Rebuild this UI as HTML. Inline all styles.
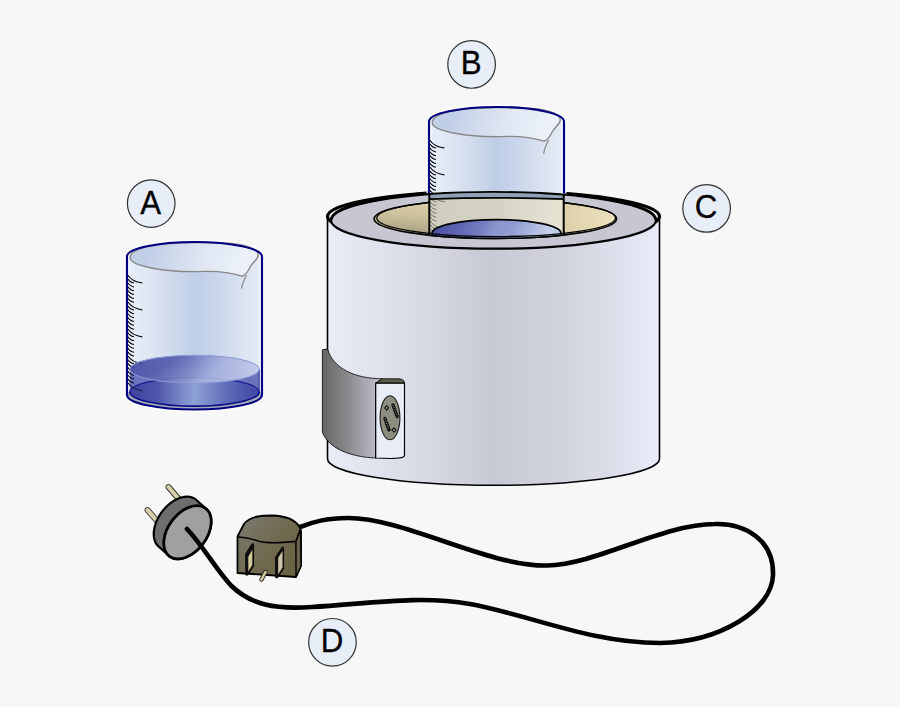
<!DOCTYPE html><html><head><meta charset="utf-8"><style>html,body{margin:0;padding:0;background:#f7f7f7;}svg{display:block}text{font-family:"Liberation Sans",sans-serif}</style></head><body>
<svg width="900" height="707" viewBox="0 0 900 707">
<defs>
<linearGradient id="gBody" x1="127" y1="0" x2="262" y2="0" gradientUnits="userSpaceOnUse">
 <stop offset="0" stop-color="#e9eff9"/><stop offset="0.18" stop-color="#dde5f2"/><stop offset="0.5" stop-color="#bfcee6"/><stop offset="0.66" stop-color="#c9d5ea"/><stop offset="0.88" stop-color="#dde5f1"/><stop offset="1" stop-color="#e6ecf6"/>
</linearGradient>
<linearGradient id="gRim" x1="150" y1="244" x2="240" y2="272" gradientUnits="userSpaceOnUse">
 <stop offset="0" stop-color="#c0cee6"/><stop offset="0.6" stop-color="#e0e7f3"/><stop offset="1" stop-color="#ebf0f9"/>
</linearGradient>
<linearGradient id="gLiqBot" x1="130" y1="0" x2="259" y2="0" gradientUnits="userSpaceOnUse">
 <stop offset="0" stop-color="#3a429e"/><stop offset="0.22" stop-color="#5058ac"/><stop offset="0.5" stop-color="#8ea2d4"/><stop offset="0.78" stop-color="#5a66b6"/><stop offset="1" stop-color="#3e46a2"/>
</linearGradient>
<linearGradient id="gLiqTop" x1="178" y1="356" x2="198" y2="384" gradientUnits="userSpaceOnUse">
 <stop offset="0" stop-color="#4c52a6"/><stop offset="0.4" stop-color="#6870b8"/><stop offset="1" stop-color="#96a2d6"/>
</linearGradient>
<linearGradient id="gLiqTopH" x1="129" y1="0" x2="259" y2="0" gradientUnits="userSpaceOnUse">
 <stop offset="0" stop-color="#c4ceec" stop-opacity="0"/><stop offset="0.45" stop-color="#c4ceec" stop-opacity="0.15"/><stop offset="1" stop-color="#c8d2ee" stop-opacity="0.9"/>
</linearGradient>
<linearGradient id="gLiqTopB" x1="442" y1="215" x2="534" y2="259" gradientUnits="userSpaceOnUse">
 <stop offset="0" stop-color="#4b50a4"/><stop offset="0.4" stop-color="#747cc0"/><stop offset="0.52" stop-color="#8a94cc"/><stop offset="0.68" stop-color="#909cd2"/><stop offset="1" stop-color="#c2cee9"/>
</linearGradient>
<linearGradient id="gHeat" x1="327" y1="0" x2="660" y2="0" gradientUnits="userSpaceOnUse">
 <stop offset="0" stop-color="#e8ecf7"/><stop offset="0.25" stop-color="#dadde8"/><stop offset="0.5" stop-color="#c7cad5"/><stop offset="0.75" stop-color="#d3d6e1"/><stop offset="1" stop-color="#e8ecf8"/>
</linearGradient>
<linearGradient id="gHole" x1="0" y1="200" x2="0" y2="237" gradientUnits="userSpaceOnUse">
 <stop offset="0" stop-color="#ddd0a9"/><stop offset="0.45" stop-color="#c9bd99"/><stop offset="1" stop-color="#99937a"/>
</linearGradient>
<linearGradient id="gHole2" x1="380" y1="0" x2="617" y2="0" gradientUnits="userSpaceOnUse">
 <stop offset="0" stop-color="#e6dab6" stop-opacity="0"/><stop offset="0.5" stop-color="#dccfaa" stop-opacity="0.35"/><stop offset="0.78" stop-color="#ddd0aa" stop-opacity="1"/><stop offset="1" stop-color="#ede1bf" stop-opacity="1"/>
</linearGradient>
<linearGradient id="gInB" x1="430" y1="0" x2="564" y2="0" gradientUnits="userSpaceOnUse">
 <stop offset="0" stop-color="#d0cebe"/><stop offset="0.5" stop-color="#d3d3c5"/><stop offset="1" stop-color="#e8e4d4"/>
</linearGradient>
<linearGradient id="gBand" x1="322" y1="0" x2="376" y2="0" gradientUnits="userSpaceOnUse">
 <stop offset="0" stop-color="#656565"/><stop offset="0.5" stop-color="#8c8c90"/><stop offset="1" stop-color="#b9bac6"/>
</linearGradient>
<linearGradient id="gUS" x1="240" y1="520" x2="298" y2="565" gradientUnits="userSpaceOnUse">
 <stop offset="0" stop-color="#7a7a70"/><stop offset="0.5" stop-color="#716b52"/><stop offset="1" stop-color="#6a6242"/>
</linearGradient>
<clipPath id="clipAbove"><path d="M0,0 H900 V216.5 H659.5 A166,25.5 0 0 0 327.5,216.5 H0 Z"/></clipPath>
<clipPath id="clipBx"><rect x="429.3" y="0" width="134.4" height="707"/></clipPath>
<clipPath id="clipLiq"><path d="M129.8,369.2 V391.9 A64.7,14.2 0 0 0 259.2,391.9 V369.2 A64.7,13.9 0 0 0 129.8,369.2 Z"/></clipPath>
<clipPath id="clipHole2"><path d="M400,199.2 H429 Q496.5,196.6 564,199.2 H600 V218.8 H616.6 A121.25,19.6 0 0 1 374.1,218.8 Z"/></clipPath>
</defs>
<g transform="translate(0,0)">
<path d="M127.0,256.5 V395.0 A67.5,14.5 0 0 0 262.0,395.0 V256.5 A67.5,14.5 0 0 0 127.0,256.5 Z" fill="url(#gBody)" stroke="#fff" stroke-width="5" stroke-opacity="0.9"/>
<path d="M128.00,275.20 C130.00,278.80 135.00,281.80 142.50,283.10 M128.00,279.04 C129.00,281.04 131.00,282.44 134.00,283.04 M128.00,282.89 C129.00,284.89 131.00,286.29 134.00,286.89 M128.00,286.73 C129.00,288.73 131.00,290.13 134.00,290.73 M128.00,290.57 C129.00,292.57 131.00,293.97 134.00,294.57 M128.00,294.41 C129.00,296.41 131.00,297.81 134.00,298.41 M128.00,298.26 C129.00,300.26 131.00,301.66 134.00,302.26 M128.00,302.10 C130.00,305.70 135.00,308.70 142.50,310.00 M128.00,305.94 C129.00,307.94 131.00,309.34 134.00,309.94 M128.00,309.79 C129.00,311.79 131.00,313.19 134.00,313.79 M128.00,313.63 C129.00,315.63 131.00,317.03 134.00,317.63 M128.00,317.47 C129.00,319.47 131.00,320.87 134.00,321.47 M128.00,321.31 C129.00,323.31 131.00,324.71 134.00,325.31 M128.00,325.16 C129.00,327.16 131.00,328.56 134.00,329.16 M128.00,329.00 C130.00,332.60 135.00,335.60 142.50,336.90 M128.00,332.84 C129.00,334.84 131.00,336.24 134.00,336.84 M128.00,336.69 C129.00,338.69 131.00,340.09 134.00,340.69 M128.00,340.53 C129.00,342.53 131.00,343.93 134.00,344.53 M128.00,344.37 C129.00,346.37 131.00,347.77 134.00,348.37 M128.00,348.21 C129.00,350.21 131.00,351.61 134.00,352.21 M128.00,352.06 C129.00,354.06 131.00,355.46 134.00,356.06 M128.00,355.90 C130.00,359.50 135.00,362.50 142.50,363.80 M128.00,359.74 C129.00,361.74 131.00,363.14 134.00,363.74 M128.00,363.59 C129.00,365.59 131.00,366.99 134.00,367.59 M128.00,367.43 C129.00,369.43 131.00,370.83 134.00,371.43 M128.00,371.27 C129.00,373.27 131.00,374.67 134.00,375.27 M128.00,375.11 C129.00,377.11 131.00,378.51 134.00,379.11 M128.00,378.96 C129.00,380.96 131.00,382.36 134.00,382.96 M128.00,382.80 C130.00,386.40 135.00,389.40 142.50,390.70" fill="none" stroke="#000" stroke-width="1.05" opacity="1.0"/>
<ellipse cx="194.5" cy="395.0" rx="67.5" ry="14.5" fill="#a4acb8"/>
<path d="M129.8,369.2 V391.9 A64.7,14.2 0 0 0 259.2,391.9 V369.2 A64.7,13.9 0 0 0 129.8,369.2 Z" fill="#5a62b4" fill-opacity="0.88"/>
<ellipse cx="194.5" cy="391.9" rx="64.7" ry="14.2" fill="url(#gLiqBot)"/>
<path d="M129.8,391.9 A64.7,14.2 0 0 1 259.2,391.9" fill="none" stroke="#1a1a90" stroke-width="1.1"/>
<path d="M129.8,391.9 A64.7,14.2 0 0 0 259.2,391.9" fill="none" stroke="#0c0c86" stroke-width="1.6"/>
<path d="M259.2,369.2 V391.9" fill="none" stroke="#2a2f98" stroke-width="1"/>
<g clip-path="url(#clipLiq)"><path d="M128.00,275.20 C130.00,278.80 135.00,281.80 142.50,283.10 M128.00,279.04 C129.00,281.04 131.00,282.44 134.00,283.04 M128.00,282.89 C129.00,284.89 131.00,286.29 134.00,286.89 M128.00,286.73 C129.00,288.73 131.00,290.13 134.00,290.73 M128.00,290.57 C129.00,292.57 131.00,293.97 134.00,294.57 M128.00,294.41 C129.00,296.41 131.00,297.81 134.00,298.41 M128.00,298.26 C129.00,300.26 131.00,301.66 134.00,302.26 M128.00,302.10 C130.00,305.70 135.00,308.70 142.50,310.00 M128.00,305.94 C129.00,307.94 131.00,309.34 134.00,309.94 M128.00,309.79 C129.00,311.79 131.00,313.19 134.00,313.79 M128.00,313.63 C129.00,315.63 131.00,317.03 134.00,317.63 M128.00,317.47 C129.00,319.47 131.00,320.87 134.00,321.47 M128.00,321.31 C129.00,323.31 131.00,324.71 134.00,325.31 M128.00,325.16 C129.00,327.16 131.00,328.56 134.00,329.16 M128.00,329.00 C130.00,332.60 135.00,335.60 142.50,336.90 M128.00,332.84 C129.00,334.84 131.00,336.24 134.00,336.84 M128.00,336.69 C129.00,338.69 131.00,340.09 134.00,340.69 M128.00,340.53 C129.00,342.53 131.00,343.93 134.00,344.53 M128.00,344.37 C129.00,346.37 131.00,347.77 134.00,348.37 M128.00,348.21 C129.00,350.21 131.00,351.61 134.00,352.21 M128.00,352.06 C129.00,354.06 131.00,355.46 134.00,356.06 M128.00,355.90 C130.00,359.50 135.00,362.50 142.50,363.80 M128.00,359.74 C129.00,361.74 131.00,363.14 134.00,363.74 M128.00,363.59 C129.00,365.59 131.00,366.99 134.00,367.59 M128.00,367.43 C129.00,369.43 131.00,370.83 134.00,371.43 M128.00,371.27 C129.00,373.27 131.00,374.67 134.00,375.27 M128.00,375.11 C129.00,377.11 131.00,378.51 134.00,379.11 M128.00,378.96 C129.00,380.96 131.00,382.36 134.00,382.96 M128.00,382.80 C130.00,386.40 135.00,389.40 142.50,390.70" fill="none" stroke="#000" stroke-width="1.05" opacity="0.75"/></g>
<ellipse cx="194.5" cy="369.2" rx="64.7" ry="13.9" fill="url(#gLiqTop)" fill-opacity="0.8"/>
<ellipse cx="194.5" cy="369.2" rx="64.7" ry="13.9" fill="url(#gLiqTopH)" stroke="#8d9cd6" stroke-width="1"/>
<path d="M130.2,257.6 A64.3,13.8 0 0 0 205,271.4 C220,271 232,273 242,276.2 C246,275.5 248,271 250.5,266.5 C253,262 257.5,259.5 258.3,255.5 C258.5,249.5 250,246 236,244 C215,241.5 175,242 150,246 C136,249 130,253 130.2,257.6 Z" fill="url(#gRim)" stroke="#888" stroke-width="1.4"/>
<path d="M246.5,275 C244.5,279 242.2,284 241.6,288.8" fill="none" stroke="#888" stroke-width="1.2"/>
<path d="M127.0,256.5 V395.0 A67.5,14.5 0 0 0 262.0,395.0 V256.5 A67.5,14.5 0 0 0 127.0,256.5 Z" fill="none" stroke="#000080" stroke-width="2.2"/>
</g>
<path d="M327.5,216.5 V458.7 A166,26.6 0 0 0 659.5,458.7 V216.5 Z" fill="url(#gHeat)" stroke="#000" stroke-width="1.6"/>
<ellipse cx="493.5" cy="216.5" rx="166" ry="25.5" fill="#f4f5fa" stroke="#000" stroke-width="3.2"/>
<ellipse cx="493.5" cy="220.25" rx="162.5" ry="28.45" fill="#c6c7d1" stroke="#000" stroke-width="2.2"/>
<path d="M331.3,219.75 A162.2,29.05 0 0 1 655.7,219.75" fill="none" stroke="#000" stroke-width="2.6"/>
<ellipse cx="495.35" cy="218.8" rx="121.25" ry="19.6" fill="url(#gHole)"/>
<ellipse cx="495.35" cy="218.8" rx="121.25" ry="19.6" fill="url(#gHole2)" stroke="#000" stroke-width="1.6"/>
<ellipse cx="496.15000000000003" cy="218.0" rx="119.35" ry="18.6" fill="none" stroke="#000" stroke-width="1.3"/>
<g clip-path="url(#clipBx)">
<path d="M331.0,220.25 A162.5,28.45 0 0 1 656.0,220.25 L600,199.2 H564 Q496.5,196.6 429,199.2 H400 Z" fill="#8fa1b7"/>
<path d="M400,199.2 H429 Q496.5,196.6 564,199.2 H600 V218.8 H616.6 A121.25,19.6 0 0 1 374.1,218.8 Z" fill="url(#gInB)"/>
<g clip-path="url(#clipHole2)">
<path d="M430.30,140.20 C432.30,143.80 437.30,146.80 444.80,148.10 M430.30,144.04 C431.30,146.04 433.30,147.44 436.30,148.04 M430.30,147.89 C431.30,149.89 433.30,151.29 436.30,151.89 M430.30,151.73 C431.30,153.73 433.30,155.13 436.30,155.73 M430.30,155.57 C431.30,157.57 433.30,158.97 436.30,159.57 M430.30,159.41 C431.30,161.41 433.30,162.81 436.30,163.41 M430.30,163.26 C431.30,165.26 433.30,166.66 436.30,167.26 M430.30,167.10 C432.30,170.70 437.30,173.70 444.80,175.00 M430.30,170.94 C431.30,172.94 433.30,174.34 436.30,174.94 M430.30,174.79 C431.30,176.79 433.30,178.19 436.30,178.79 M430.30,178.63 C431.30,180.63 433.30,182.03 436.30,182.63 M430.30,182.47 C431.30,184.47 433.30,185.87 436.30,186.47 M430.30,186.31 C431.30,188.31 433.30,189.71 436.30,190.31 M430.30,190.16 C431.30,192.16 433.30,193.56 436.30,194.16 M430.30,194.00 C432.30,197.60 437.30,200.60 444.80,201.90 M430.30,197.84 C431.30,199.84 433.30,201.24 436.30,201.84 M430.30,201.69 C431.30,203.69 433.30,205.09 436.30,205.69 M430.30,205.53 C431.30,207.53 433.30,208.93 436.30,209.53 M430.30,209.37 C431.30,211.37 433.30,212.77 436.30,213.37 M430.30,213.21 C431.30,215.21 433.30,216.61 436.30,217.21 M430.30,217.06 C431.30,219.06 433.30,220.46 436.30,221.06 M430.30,220.90 C432.30,224.50 437.30,227.50 444.80,228.80 M430.30,224.74 C431.30,226.74 433.30,228.14 436.30,228.74 M430.30,228.59 C431.30,230.59 433.30,231.99 436.30,232.59 M430.30,232.43 C431.30,234.43 433.30,235.83 436.30,236.43 M430.30,236.27 C431.30,238.27 433.30,239.67 436.30,240.27 M430.30,240.11 C431.30,242.11 433.30,243.51 436.30,244.11 M430.30,243.96 C431.30,245.96 433.30,247.36 436.30,247.96 M430.30,247.80 C432.30,251.40 437.30,254.40 444.80,255.70" fill="none" stroke="#3a3528" stroke-width="1.0" opacity="0.6"/>
<ellipse cx="496.5" cy="233.3" rx="64.5" ry="13.7" fill="url(#gLiqTopB)" stroke="#000" stroke-width="1.8"/>
</g>
<path d="M400,199.2 H429 Q496.5,196.6 564,199.2 H600" fill="none" stroke="#000" stroke-width="1.7"/>
<path d="M331.0,220.25 A162.5,28.45 0 0 1 656.0,220.25" fill="none" stroke="#000" stroke-width="2"/>
<path d="M616.6,218.8 A121.25,19.6 0 0 1 374.1,218.8" fill="none" stroke="#000" stroke-width="1.6"/>
<path d="M615.5000000000001,218.0 A119.35,18.6 0 0 1 376.8,218.0" fill="none" stroke="#000" stroke-width="1.3"/>
</g>
<path d="M429.3,192 V235 M563.7,192 V235" stroke="#000" stroke-width="2"/>
<g clip-path="url(#clipAbove)">
<g transform="translate(302,-135)">
<path d="M127.0,256.5 V395.0 A67.5,14.5 0 0 0 262.0,395.0 V256.5 A67.5,14.5 0 0 0 127.0,256.5 Z" fill="url(#gBody)" stroke="#fff" stroke-width="5" stroke-opacity="0.9"/>
<path d="M128.00,275.20 C130.00,278.80 135.00,281.80 142.50,283.10 M128.00,279.04 C129.00,281.04 131.00,282.44 134.00,283.04 M128.00,282.89 C129.00,284.89 131.00,286.29 134.00,286.89 M128.00,286.73 C129.00,288.73 131.00,290.13 134.00,290.73 M128.00,290.57 C129.00,292.57 131.00,293.97 134.00,294.57 M128.00,294.41 C129.00,296.41 131.00,297.81 134.00,298.41 M128.00,298.26 C129.00,300.26 131.00,301.66 134.00,302.26 M128.00,302.10 C130.00,305.70 135.00,308.70 142.50,310.00 M128.00,305.94 C129.00,307.94 131.00,309.34 134.00,309.94 M128.00,309.79 C129.00,311.79 131.00,313.19 134.00,313.79 M128.00,313.63 C129.00,315.63 131.00,317.03 134.00,317.63 M128.00,317.47 C129.00,319.47 131.00,320.87 134.00,321.47 M128.00,321.31 C129.00,323.31 131.00,324.71 134.00,325.31 M128.00,325.16 C129.00,327.16 131.00,328.56 134.00,329.16 M128.00,329.00 C130.00,332.60 135.00,335.60 142.50,336.90 M128.00,332.84 C129.00,334.84 131.00,336.24 134.00,336.84 M128.00,336.69 C129.00,338.69 131.00,340.09 134.00,340.69 M128.00,340.53 C129.00,342.53 131.00,343.93 134.00,344.53 M128.00,344.37 C129.00,346.37 131.00,347.77 134.00,348.37 M128.00,348.21 C129.00,350.21 131.00,351.61 134.00,352.21 M128.00,352.06 C129.00,354.06 131.00,355.46 134.00,356.06 M128.00,355.90 C130.00,359.50 135.00,362.50 142.50,363.80 M128.00,359.74 C129.00,361.74 131.00,363.14 134.00,363.74 M128.00,363.59 C129.00,365.59 131.00,366.99 134.00,367.59 M128.00,367.43 C129.00,369.43 131.00,370.83 134.00,371.43 M128.00,371.27 C129.00,373.27 131.00,374.67 134.00,375.27 M128.00,375.11 C129.00,377.11 131.00,378.51 134.00,379.11 M128.00,378.96 C129.00,380.96 131.00,382.36 134.00,382.96 M128.00,382.80 C130.00,386.40 135.00,389.40 142.50,390.70" fill="none" stroke="#000" stroke-width="1.05" opacity="1.0"/>
<path d="M130.2,257.6 A64.3,13.8 0 0 0 205,271.4 C220,271 232,273 242,276.2 C246,275.5 248,271 250.5,266.5 C253,262 257.5,259.5 258.3,255.5 C258.5,249.5 250,246 236,244 C215,241.5 175,242 150,246 C136,249 130,253 130.2,257.6 Z" fill="url(#gRim)" stroke="#888" stroke-width="1.4"/>
<path d="M246.5,275 C244.5,279 242.2,284 241.6,288.8" fill="none" stroke="#888" stroke-width="1.2"/>
<path d="M127.0,256.5 V395.0 A67.5,14.5 0 0 0 262.0,395.0 V256.5 A67.5,14.5 0 0 0 127.0,256.5 Z" fill="none" stroke="#000080" stroke-width="2.2"/>
</g>
</g>
<path d="M322.4,349.8 L327.5,349 C333,368 354,378.5 382,378.8 L375.7,383.3 V458 C350,457 328,448 322.4,432 Z" fill="url(#gBand)" stroke="#000" stroke-width="0.8"/>
<path d="M375.7,383.3 L382,378.8 H399 Q404.5,379.2 404.5,383.5 Z" fill="#5e5e4c" stroke="#000" stroke-width="0.8"/>
<path d="M375.7,383.2 H404.5 V455.5 Q404.5,458.5 390,458.5 L375.7,458 Z" fill="#e8ecf7" stroke="#000" stroke-width="1.2"/>
<ellipse cx="390" cy="417.8" rx="9.9" ry="22" fill="#8d8d80" stroke="#1a1a1a" stroke-width="1.1"/>
<path d="M393,405 L397.2,416.5 M384.9,418.5 L389,429.8" stroke="#111" stroke-width="3.4" stroke-linecap="round"/>
<path d="M393,405 L397.2,416.5 M384.9,418.5 L389,429.8" stroke="#8d8d80" stroke-width="1.3" stroke-dasharray="0.9,1.5"/>
<path d="M386.7,405.9 L388.6,408 L386.7,410 L384.8,408 Z M394,428 L395.9,430 L394,432 L392.1,430 Z" fill="#c8c8c0" stroke="#111" stroke-width="1.2" stroke-linejoin="round"/>
<path d="M168.5,487 L180,500.5 M147.5,510 L158,522" stroke="#222" stroke-width="5.8" stroke-linecap="round"/>
<path d="M168.5,487 L180,500.5 M147.5,510 L158,522" stroke="#d8cfa8" stroke-width="4.2" stroke-linecap="round"/>
<path d="M153.76,533.98 L153.76,533.76 L153.76,533.55 L153.77,533.33 L153.78,533.12 L153.78,532.90 L153.79,532.68 L153.81,532.47 L153.82,532.25 L153.83,532.03 L153.85,531.81 L153.87,531.59 L153.89,531.37 L153.91,531.14 L153.94,530.92 L153.97,530.70 L153.99,530.48 L154.02,530.25 L154.05,530.03 L154.09,529.80 L154.12,529.58 L154.16,529.35 L154.20,529.12 L154.24,528.90 L154.28,528.67 L154.32,528.44 L154.37,528.22 L154.42,527.99 L154.47,527.76 L154.52,527.53 L154.57,527.30 L154.63,527.07 L154.68,526.84 L154.74,526.61 L154.80,526.38 L154.86,526.15 L154.92,525.91 L154.99,525.68 L155.06,525.45 L155.12,525.22 L155.19,524.99 L155.27,524.76 L155.34,524.52 L155.41,524.29 L155.49,524.06 L155.57,523.83 L155.65,523.60 L155.73,523.36 L155.81,523.13 L155.90,522.90 L155.99,522.67 L156.08,522.43 L156.17,522.20 L156.26,521.97 L156.35,521.74 L156.44,521.51 L156.54,521.27 L156.64,521.04 L156.74,520.81 L156.84,520.58 L156.94,520.35 L157.05,520.12 L157.15,519.89 L157.26,519.66 L157.37,519.43 L157.48,519.20 L157.59,518.97 L157.71,518.74 L157.82,518.51 L157.94,518.28 L158.06,518.05 L158.18,517.83 L158.30,517.60 L158.42,517.37 L158.54,517.15 L158.67,516.92 L158.80,516.70 L158.93,516.47 L159.05,516.25 L159.19,516.02 L159.32,515.80 L159.45,515.58 L159.59,515.35 L159.72,515.13 L159.86,514.91 L160.00,514.69 L160.14,514.47 L160.28,514.25 L160.43,514.03 L160.57,513.82 L160.72,513.60 L160.86,513.38 L161.01,513.17 L161.31,512.74 L161.47,512.53 L161.62,512.32 L161.93,511.89 L162.09,511.69 L162.24,511.48 L162.56,511.06 L162.73,510.86 L162.89,510.65 L163.05,510.45 L163.22,510.24 L163.38,510.04 L163.55,509.84 L163.72,509.64 L163.89,509.44 L164.06,509.24 L164.23,509.05 L164.40,508.85 L164.57,508.66 L164.75,508.46 L164.92,508.27 L165.10,508.08 L165.28,507.89 L165.46,507.70 L165.63,507.51 L165.81,507.33 L166.00,507.14 L166.18,506.96 L166.36,506.77 L166.54,506.59 L166.73,506.41 L166.91,506.23 L167.10,506.06 L167.28,505.88 L167.47,505.70 L167.66,505.53 L167.85,505.36 L168.04,505.19 L168.23,505.02 L168.42,504.85 L168.61,504.68 L168.80,504.52 L169.00,504.35 L169.19,504.19 L169.38,504.03 L169.58,503.87 L169.78,503.71 L169.97,503.56 L170.17,503.40 L170.37,503.25 L170.56,503.10 L170.76,502.94 L170.96,502.80 L171.16,502.65 L171.36,502.50 L171.56,502.36 L171.76,502.21 L171.96,502.07 L172.16,501.93 L172.37,501.80 L172.57,501.66 L172.77,501.53 L172.97,501.39 L173.18,501.26 L173.38,501.13 L173.59,501.00 L173.79,500.88 L174.00,500.75 L174.20,500.63 L174.41,500.51 L174.61,500.39 L174.82,500.27 L175.02,500.16 L175.23,500.04 L175.44,499.93 L175.64,499.82 L175.85,499.71 L176.06,499.61 L176.26,499.50 L176.47,499.40 L176.68,499.30 L176.88,499.19 L177.09,499.10 L177.30,499.00 L177.50,498.91 L177.71,498.81 L177.92,498.73 L178.13,498.64 L178.33,498.55 L178.54,498.46 L178.75,498.38 L178.95,498.30 L179.16,498.22 L179.37,498.14 L179.57,498.07 L179.78,498.00 L179.99,497.93 L180.19,497.86 L180.40,497.79 L180.60,497.72 L180.81,497.66 L181.01,497.60 L181.22,497.54 L181.42,497.48 L181.63,497.43 L181.83,497.37 L182.03,497.32 L182.24,497.27 L182.44,497.22 L182.64,497.18 L182.84,497.13 L183.05,497.09 L183.25,497.05 L183.45,497.01 L183.65,496.98 L183.85,496.94 L184.05,496.91 L184.25,496.88 L184.44,496.85 L184.64,496.83 L184.84,496.80 L185.04,496.78 L185.23,496.76 L185.43,496.74 L185.62,496.73 L185.82,496.71 L186.01,496.70 L186.21,496.69 L186.40,496.69 L186.59,496.68 L186.78,496.68 L186.97,496.67 L187.16,496.68 L187.35,496.68 L187.54,496.68 L187.72,496.69 L187.91,496.70 L188.10,496.71 L188.28,496.72 L188.47,496.73 L188.65,496.75 L188.83,496.77 L189.01,496.79 L189.19,496.81 L189.37,496.84 L189.55,496.87 L189.73,496.89 L189.91,496.92 L190.08,496.96 L190.26,496.99 L190.43,497.03 L190.61,497.07 L190.78,497.11 L190.95,497.15 L191.12,497.20 L191.29,497.24 L191.46,497.29 L191.62,497.34 L191.79,497.39 L191.96,497.45 L192.12,497.51 L192.28,497.56 L192.44,497.62 L192.60,497.69 L192.76,497.75 L192.92,497.82 L193.08,497.89 L193.23,497.96 L193.39,498.03 L193.54,498.10 L193.69,498.18 L193.84,498.26 L193.99,498.34 L194.14,498.42 L194.29,498.50 L194.44,498.59 L194.58,498.68 L194.72,498.77 L194.87,498.86 L195.01,498.95 L195.15,499.05 L195.28,499.14 L195.42,499.24 L195.55,499.34 L195.69,499.44 L195.82,499.55 L195.95,499.65 L196.08,499.76 L196.21,499.87 L196.34,499.98 L196.46,500.10 L206.46,509.10 L206.59,509.21 L206.71,509.33 L206.83,509.44 L206.95,509.56 L207.07,509.69 L207.18,509.81 L207.30,509.94 L207.41,510.06 L207.52,510.19 L207.63,510.32 L207.74,510.45 L207.85,510.59 L207.96,510.72 L208.06,510.86 L208.16,511.00 L208.26,511.14 L208.37,511.28 L208.46,511.42 L208.56,511.57 L208.65,511.71 L208.75,511.86 L208.84,512.01 L208.93,512.16 L209.02,512.32 L209.10,512.47 L209.19,512.63 L209.27,512.78 L209.35,512.94 L209.43,513.10 L209.51,513.26 L209.59,513.43 L209.66,513.59 L209.74,513.76 L209.81,513.93 L209.88,514.10 L209.95,514.26 L210.01,514.44 L210.08,514.61 L210.14,514.78 L210.20,514.96 L210.26,515.14 L210.32,515.32 L210.38,515.49 L210.43,515.67 L210.48,515.86 L210.53,516.04 L210.58,516.23 L210.63,516.41 L210.68,516.60 L210.72,516.79 L210.76,516.98 L210.80,517.17 L210.84,517.36 L210.88,517.55 L210.91,517.75 L210.95,517.94 L210.98,518.14 L211.01,518.33 L211.04,518.53 L211.06,518.73 L211.09,518.93 L211.11,519.13 L211.13,519.34 L211.15,519.54 L211.17,519.74 L211.18,519.95 L211.19,520.16 L211.21,520.36 L211.22,520.57 L211.22,520.78 L211.23,520.99 L211.24,521.20 L211.24,521.41 L211.24,521.62 L211.24,521.84 L211.24,522.05 L211.23,522.27 L211.22,522.48 L211.22,522.70 L211.21,522.92 L211.19,523.13 L211.18,523.35 L211.17,523.57 L211.15,523.79 L211.13,524.01 L211.11,524.23 L211.09,524.46 L211.06,524.68 L211.03,524.90 L211.01,525.12 L210.98,525.35 L210.95,525.57 L210.91,525.80 L210.88,526.02 L210.84,526.25 L210.80,526.48 L210.76,526.70 L210.72,526.93 L210.68,527.16 L210.63,527.38 L210.58,527.61 L210.53,527.84 L210.48,528.07 L210.43,528.30 L210.37,528.53 L210.32,528.76 L210.26,528.99 L210.20,529.22 L210.14,529.45 L210.08,529.68 L210.01,529.92 L209.94,530.15 L209.88,530.38 L209.81,530.61 L209.73,530.84 L209.66,531.08 L209.59,531.31 L209.51,531.54 L209.43,531.77 L209.35,532.00 L209.27,532.24 L209.19,532.47 L209.10,532.70 L209.01,532.93 L208.92,533.17 L208.83,533.40 L208.74,533.63 L208.65,533.86 L208.56,534.09 L208.46,534.33 L208.36,534.56 L208.26,534.79 L208.16,535.02 L208.06,535.25 L207.95,535.48 L207.85,535.71 L207.74,535.94 L207.63,536.17 L207.52,536.40 L207.41,536.63 L207.29,536.86 L207.18,537.09 L207.06,537.32 L206.94,537.55 L206.82,537.77 L206.70,538.00 L206.58,538.23 L206.46,538.45 L206.33,538.68 L206.20,538.90 L206.07,539.13 L205.95,539.35 L205.81,539.58 L205.68,539.80 L205.55,540.02 L205.41,540.25 L205.28,540.47 L205.14,540.69 L205.00,540.91 L204.86,541.13 L204.72,541.35 L204.57,541.57 L204.43,541.78 L204.28,542.00 L204.14,542.22 L203.99,542.43 L203.69,542.86 L203.53,543.07 L203.38,543.28 L203.07,543.71 L202.91,543.91 L202.76,544.12 L202.44,544.54 L202.27,544.74 L202.11,544.95 L201.95,545.15 L201.78,545.36 L201.62,545.56 L201.45,545.76 L201.28,545.96 L201.11,546.16 L200.94,546.36 L200.77,546.55 L200.60,546.75 L200.43,546.94 L200.25,547.14 L200.08,547.33 L199.90,547.52 L199.72,547.71 L199.54,547.90 L199.37,548.09 L199.19,548.27 L199.00,548.46 L198.82,548.64 L198.64,548.83 L198.46,549.01 L198.27,549.19 L198.09,549.37 L197.90,549.54 L197.72,549.72 L197.53,549.89 L197.34,550.07 L197.15,550.24 L196.96,550.41 L196.77,550.58 L196.58,550.75 L196.39,550.92 L196.20,551.08 L196.00,551.25 L195.81,551.41 L195.62,551.57 L195.42,551.73 L195.22,551.89 L195.03,552.04 L194.83,552.20 L194.63,552.35 L194.44,552.50 L194.24,552.66 L194.04,552.80 L193.84,552.95 L193.64,553.10 L193.44,553.24 L193.24,553.38 L193.04,553.53 L192.84,553.67 L192.63,553.80 L192.43,553.94 L192.23,554.07 L192.03,554.21 L191.82,554.34 L191.62,554.47 L191.41,554.60 L191.21,554.72 L191.00,554.85 L190.80,554.97 L190.59,555.09 L190.39,555.21 L190.18,555.33 L189.98,555.44 L189.77,555.56 L189.56,555.67 L189.36,555.78 L189.15,555.89 L188.94,556.00 L188.74,556.10 L188.53,556.20 L188.32,556.30 L188.12,556.40 L187.91,556.50 L187.70,556.60 L187.50,556.69 L187.29,556.78 L187.08,556.88 L186.87,556.96 L186.67,557.05 L186.46,557.13 L186.25,557.22 L186.05,557.30 L185.84,557.38 L185.63,557.46 L185.43,557.53 L185.22,557.60 L185.01,557.67 L184.81,557.74 L184.60,557.81 L184.40,557.88 L184.19,557.94 L183.99,558.00 L183.78,558.06 L183.58,558.12 L183.37,558.17 L183.17,558.23 L182.97,558.28 L182.76,558.33 L182.56,558.38 L182.36,558.42 L182.16,558.47 L181.95,558.51 L181.75,558.55 L181.55,558.59 L181.35,558.62 L181.15,558.66 L180.95,558.69 L180.75,558.72 L180.56,558.75 L180.36,558.77 L180.16,558.80 L179.96,558.82 L179.77,558.84 L179.57,558.86 L179.38,558.87 L179.18,558.89 L178.99,558.90 L178.79,558.91 L178.60,558.91 L178.41,558.92 L178.22,558.92 L178.03,558.93 L177.84,558.92 L177.65,558.92 L177.46,558.92 L177.28,558.91 L177.09,558.90 L176.90,558.89 L176.72,558.88 L176.53,558.87 L176.35,558.85 L176.17,558.83 L175.99,558.81 L175.81,558.79 L175.63,558.76 L175.45,558.74 L175.27,558.71 L175.09,558.68 L174.92,558.64 L174.74,558.61 L174.57,558.57 L174.39,558.53 L174.22,558.49 L174.05,558.45 L173.88,558.40 L173.71,558.36 L173.54,558.31 L173.38,558.26 L173.21,558.21 L173.04,558.15 L172.88,558.09 L172.72,558.03 L172.56,557.98 L172.40,557.91 L172.24,557.85 L172.08,557.78 L171.92,557.71 L171.77,557.64 L171.61,557.57 L171.46,557.50 L171.31,557.42 L171.16,557.34 L171.01,557.26 L170.86,557.18 L170.71,557.10 L170.56,557.01 L170.42,556.92 L170.28,556.83 L170.13,556.74 L169.99,556.65 L169.85,556.55 L169.72,556.46 L169.58,556.36 L169.45,556.26 L169.31,556.16 L169.18,556.05 L169.05,555.95 L168.92,555.84 L168.79,555.73 L168.66,555.62 L168.54,555.50 L158.54,546.50 L158.41,546.39 L158.29,546.27 L158.17,546.16 L158.05,546.04 L157.93,545.91 L157.82,545.79 L157.70,545.66 L157.59,545.54 L157.48,545.41 L157.37,545.28 L157.26,545.15 L157.15,545.01 L157.04,544.88 L156.94,544.74 L156.84,544.60 L156.74,544.46 L156.63,544.32 L156.54,544.18 L156.44,544.03 L156.35,543.89 L156.25,543.74 L156.16,543.59 L156.07,543.44 L155.98,543.28 L155.90,543.13 L155.81,542.97 L155.73,542.82 L155.65,542.66 L155.57,542.50 L155.49,542.34 L155.41,542.17 L155.34,542.01 L155.26,541.84 L155.19,541.67 L155.12,541.50 L155.05,541.34 L154.99,541.16 L154.92,540.99 L154.86,540.82 L154.80,540.64 L154.74,540.46 L154.68,540.28 L154.62,540.11 L154.57,539.92 L154.52,539.74 L154.47,539.56 L154.42,539.38 L154.37,539.19 L154.32,539.00 L154.28,538.81 L154.24,538.62 L154.20,538.43 L154.16,538.24 L154.12,538.05 L154.09,537.86 L154.05,537.66 L154.02,537.46 L153.99,537.27 L153.96,537.07 L153.94,536.87 L153.91,536.67 L153.89,536.47 L153.87,536.26 L153.85,536.06 L153.83,535.86 L153.82,535.65 L153.81,535.44 L153.79,535.24 L153.78,535.03 L153.78,534.82 L153.77,534.61 L153.76,534.40 L153.76,534.19 Z" fill="#6e6e6e" stroke="#000" stroke-width="2.2" stroke-linejoin="round"/>
<ellipse cx="187.5" cy="532.3" rx="30" ry="19.3" transform="rotate(-53 187.5 532.3)" fill="#a0a0a0" stroke="#000" stroke-width="2.8"/>
<path d="M187,529 C204,547 214,567 231,585.5 C251,605 275,609.5 312,607 C370,603.5 420,595 470,604 C530,615 590,643 660,643 C720,642 772,610 773,575 C774,540 745,523 715,524 C662,524 597,564.5 547,565.5 C487,566.5 405,518 348,518 C326,518 313,522 300,527" fill="none" stroke="#000" stroke-width="4.6" stroke-linecap="round"/>
<path d="M237.5,536.5 L244,524 C250,516 262,515.5 272,515.5 C287,516 296,521 299.5,527 L301,531 L301,566 L296,577 L237.5,573 Z" fill="url(#gUS)" stroke="#000" stroke-width="1.8" stroke-linejoin="round"/>
<path d="M237.3,537 C247,537.8 252,538.5 258,541 C266,543.5 280,543 295.9,541.4 L300.2,529.5" fill="none" stroke="#000" stroke-width="1.6"/>
<path d="M295.9,541.4 L300.6,529.8 L301,566 L296,577 Z" fill="#68624a" stroke="#000" stroke-width="1.4" stroke-linejoin="round"/>
<path d="M245.6,553.8 L252.2,543.6 L253.6,544 V566.2 L247.4,575.3 L245.8,575 Z" fill="#111" stroke="#000" stroke-width="0.8" stroke-linejoin="round"/>
<path d="M248.3,556.8 L252.3,549.8 V565 L248.3,571.6 Z" fill="#d5c998"/>
<path d="M275.6,556.9 L282.3,546.9 L283.6,547.2 V568.6 L277.4,578 L275.6,577.7 Z" fill="#111" stroke="#000" stroke-width="0.8" stroke-linejoin="round"/>
<path d="M278.2,557.8 L282.5,550.9 V567.6 L278.2,574.3 Z" fill="#cdc5a8"/>
<path d="M265.5,572 L261.5,579.5" stroke="#222" stroke-width="4.4" stroke-linecap="round"/><path d="M265.5,572 L261.5,579.5" stroke="#d6cc9c" stroke-width="2.6" stroke-linecap="round"/>
<circle cx="151.2" cy="203.6" r="23.8" fill="#e8eef8" stroke="#333" stroke-width="1.2"/>
<text transform="translate(150.7 213.5) scale(0.92 1)" x="0" y="0" font-size="34" text-anchor="middle" fill="#000" stroke="#000" stroke-width="0.3">A</text>
<circle cx="471.6" cy="64.45" r="23.8" fill="#e8eef8" stroke="#333" stroke-width="1.2"/>
<text transform="translate(471.1 74.35000000000001) scale(0.92 1)" x="0" y="0" font-size="34" text-anchor="middle" fill="#000" stroke="#000" stroke-width="0.3">B</text>
<circle cx="706.6" cy="208.4" r="23.8" fill="#e8eef8" stroke="#333" stroke-width="1.2"/>
<text transform="translate(706.1 218.3) scale(0.92 1)" x="0" y="0" font-size="34" text-anchor="middle" fill="#000" stroke="#000" stroke-width="0.3">C</text>
<circle cx="332.45" cy="642.3" r="23.8" fill="#e8eef8" stroke="#333" stroke-width="1.2"/>
<text transform="translate(331.95 652.1999999999999) scale(0.92 1)" x="0" y="0" font-size="34" text-anchor="middle" fill="#000" stroke="#000" stroke-width="0.3">D</text>
</svg></body></html>
